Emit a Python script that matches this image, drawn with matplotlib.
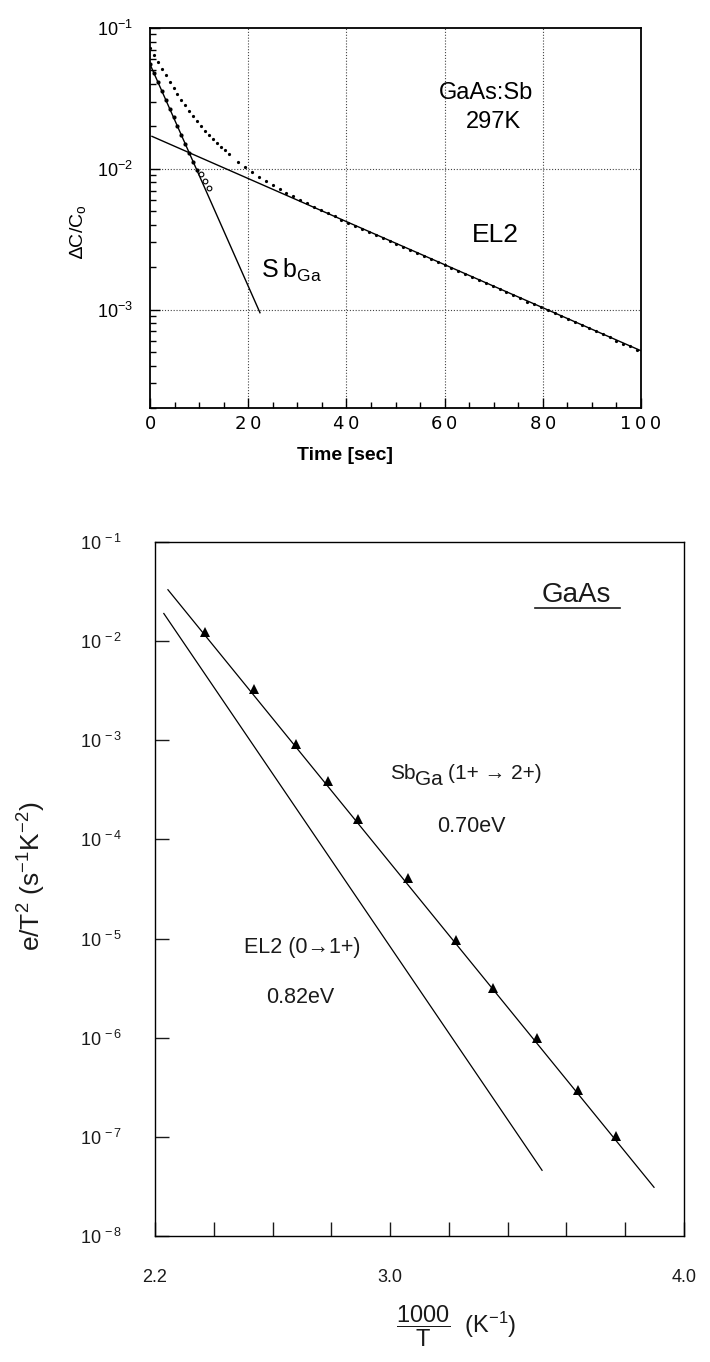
import numpy as np
import matplotlib.pyplot as plt
from matplotlib.ticker import FixedLocator, FixedFormatter, LogLocator, NullFormatter, MultipleLocator

plt.rcParams['font.family'] = ['Liberation Sans', 'DejaVu Sans']
plt.rcParams['mathtext.fontset'] = 'custom'
plt.rcParams['mathtext.rm'] = 'Liberation Sans'
plt.rcParams['mathtext.it'] = 'Liberation Sans:italic'
plt.rcParams['mathtext.bf'] = 'Liberation Sans:bold'

# --- top panel: capacitance transient of GaAs:Sb at 297 K ---
# measured transient (dots)
t_meas = [0.0, 0.8, 1.6, 2.4, 3.2, 4.0, 4.8, 5.6, 6.4, 7.2, 8.0, 8.8, 9.6, 10.4,
          11.2, 12.0, 12.8, 13.6, 14.4, 15.2, 16.0,
          18.0, 19.4, 20.8, 22.2, 23.6, 25.0, 26.4, 27.8, 29.2, 30.6, 32.0, 33.4,
          34.8, 36.2, 37.6, 39.0, 40.4, 41.8, 43.2, 44.6, 46.0, 47.4, 48.8, 50.2,
          51.6, 53.0, 54.4, 55.8, 57.2, 58.6, 60.0, 61.4, 62.8, 64.2, 65.6, 67.0,
          68.4, 69.8, 71.2, 72.6, 74.0, 75.4, 76.8, 78.2, 79.6, 81.0, 82.4, 83.8,
          85.2, 86.6, 88.0, 89.4, 90.8, 92.2, 93.6, 95.0, 96.4, 97.8, 99.2]
dc_meas = [0.0723, 0.0644, 0.0574, 0.0514, 0.0461, 0.0415, 0.0375, 0.0340, 0.0309,
           0.0282, 0.0258, 0.0237, 0.0218, 0.0202, 0.0187, 0.0174, 0.0163, 0.0152,
           0.0143, 0.0135, 0.0127,
           0.01114, 0.01023, 0.00945, 0.00877, 0.00818, 0.00765, 0.00718, 0.00675,
           0.00637, 0.00601, 0.00569, 0.00538, 0.00510, 0.00484, 0.00459, 0.00436,
           0.00414, 0.00394, 0.00375, 0.00356, 0.00339, 0.00322, 0.00306, 0.00291,
           0.00277, 0.00264, 0.00251, 0.00239, 0.00228, 0.00217, 0.00206, 0.00196,
           0.00187, 0.00178, 0.00170, 0.00161, 0.00154, 0.00146, 0.00139, 0.00133,
           0.00126, 0.00120, 0.00114, 0.00109, 0.00104, 0.000987, 0.000939, 0.000894,
           0.000851, 0.000810, 0.000772, 0.000735, 0.000699, 0.000666, 0.000634,
           0.000603, 0.000574, 0.000547, 0.000520]
# fast component after subtracting EL2
t_sb = [0.0, 0.8, 1.6, 2.4, 3.2, 4.0, 4.8, 5.6, 6.4, 7.2, 8.0, 8.8, 9.6]
dc_sb = [0.0553, 0.0479, 0.0414, 0.0358, 0.0310, 0.0268, 0.0232, 0.0200, 0.0173,
         0.0150, 0.0130, 0.0112, 0.0098]
t_sb_open = [10.4, 11.2, 12.0]
dc_sb_open = [0.0092, 0.0082, 0.0073]
# fitted exponentials (straight lines on log scale)
el2_fit_t = [0.4, 100.0]
el2_fit = [0.0170, 0.00051]
sb_fit_t = [0.0, 22.4]
sb_fit = [0.0553, 0.00095]
time_ticks = [0, 20, 40, 60, 80, 100]
time_labels = ['0', '2\u20090', '4\u20090', '6\u20090', '8\u20090', '1\u20090\u20090']

# --- bottom panel: Arrhenius plot ---
inv_t_sb = [2.37, 2.536, 2.68, 2.787, 2.89, 3.06, 3.225, 3.35, 3.50, 3.64, 3.77]
rate_sb = [1.23e-2, 3.3e-3, 9.2e-4, 3.9e-4, 1.6e-4, 4.1e-5, 9.7e-6, 3.2e-6, 1.0e-6,
           2.97e-7, 1.02e-7]
sb_line_x = [2.244, 3.898]
sb_line_y = [3.3e-2, 3.1e-8]
el2_line_x = [2.23, 3.517]
el2_line_y = [1.9e-2, 4.6e-8]
inv_t_ticks = [2.2, 2.4, 2.6, 2.8, 3.0, 3.2, 3.4, 3.6, 3.8, 4.0]
inv_t_labels = ['2.2', '', '', '', '3.0', '', '', '', '', '4.0']

W, H = 710, 1362
ink = '#1a1a1a'
fig = plt.figure(figsize=(W / 100, H / 100), dpi=100)

# ---------------- top ----------------
ax1 = fig.add_axes([150 / W, 1 - 408 / H, 491 / W, 380 / H])
ax1.set_yscale('log')
ax1.set_xlim(0, 100)
ax1.set_ylim(2e-4, 1e-1)

for xg in [20, 40, 60, 80]:
    ax1.axvline(xg, color='#444', lw=0.8, ls=(0, (1, 1.6)), zorder=1)
for yg in [1e-2, 1e-3]:
    ax1.axhline(yg, color='#444', lw=0.8, ls=(0, (1, 1.6)), zorder=1)

ax1.plot(el2_fit_t, el2_fit, color='k', lw=1.0, zorder=3)
ax1.plot(sb_fit_t, sb_fit, color='k', lw=1.0, zorder=3)
ax1.plot(t_meas, dc_meas, 'o', color='k', ms=2.3, mew=0, zorder=4)
ax1.plot(t_sb, dc_sb, 'o', color='k', ms=3.0, mew=0, zorder=4)
ax1.plot(t_sb_open, dc_sb_open, 'o', mfc='white', mec='k', ms=3.4, mew=0.8, zorder=4)

ax1.yaxis.set_major_locator(FixedLocator([1e-1, 1e-2, 1e-3]))
ax1.yaxis.set_major_formatter(FixedFormatter([r'$\mathregular{10^{-1}}$',
                                              r'$\mathregular{10^{-2}}$',
                                              r'$\mathregular{10^{-3}}$']))
ax1.yaxis.set_minor_locator(LogLocator(base=10, subs=np.arange(2, 10)))
ax1.yaxis.set_minor_formatter(NullFormatter())
ax1.xaxis.set_major_locator(FixedLocator(time_ticks))
ax1.xaxis.set_major_formatter(FixedFormatter(time_labels))
ax1.xaxis.set_minor_locator(MultipleLocator(5))
for lab in ax1.get_xticklabels():
    lab.set_family(['DejaVu Sans'])
ax1.tick_params(which='both', direction='in', top=False, right=False, width=1.0,
                labelsize=13, colors='k')
ax1.tick_params(which='major', length=7)
ax1.tick_params(which='minor', length=4)
ax1.tick_params(axis='y', pad=12)
ax1.tick_params(axis='x', pad=5)
for s in ax1.spines.values():
    s.set_linewidth(1.3)

ax1.text(68.5, 10**-1.46, 'GaAs:Sb', fontsize=17, ha='center', va='center')
ax1.text(70, 10**-1.67, '297K', fontsize=17, ha='center', va='center')
ax1.text(70.4, 10**-2.47, 'EL2', fontsize=19, ha='center', va='center')
ax1.text(22.6, 10**-2.72, 'S\u2009b$_{\\mathregular{Ga}}$', fontsize=18,
         ha='left', va='center')

fig.text(77 / W, 1 - 232 / H, '\u2206C/C$_{\\mathregular{o}}$', rotation=90,
         fontsize=14, ha='center', va='center')
fig.text(345 / W, 1 - 455 / H, 'Time [sec]', fontsize=14, fontweight='bold',
         ha='center', va='center')

# ---------------- bottom ----------------
ax2 = fig.add_axes([155 / W, 1 - 1236 / H, 529 / W, 694 / H])
ax2.set_yscale('log')
ax2.set_xlim(2.2, 4.0)
ax2.set_ylim(1e-8, 1e-1)

ax2.plot(sb_line_x, sb_line_y, color='k', lw=0.9)
ax2.plot(el2_line_x, el2_line_y, color='k', lw=0.9)
ax2.plot(inv_t_sb, rate_sb, '^', color='k', ms=7, mew=0)

decades = [1e-1, 1e-2, 1e-3, 1e-4, 1e-5, 1e-6, 1e-7, 1e-8]
ax2.yaxis.set_major_locator(FixedLocator(decades))
ax2.yaxis.set_major_formatter(FixedFormatter(
    [r'$\mathregular{10^{\,-%d}}$' % k for k in range(1, 9)]))
ax2.yaxis.set_minor_locator(FixedLocator([]))
ax2.xaxis.set_major_locator(FixedLocator(inv_t_ticks))
ax2.xaxis.set_major_formatter(FixedFormatter(inv_t_labels))
ax2.tick_params(which='major', direction='in', length=10, width=1.0, top=False,
                right=False, labelsize=13, colors=ink)
ax2.tick_params(axis='y', pad=24)
ax2.tick_params(axis='x', pad=24)
for s in ax2.spines.values():
    s.set_linewidth(1.0)

ax2.text(3.633, 10**-1.534, 'GaAs', fontsize=20, ha='center', va='center', color=ink)
ax2.plot([0.718, 0.879], [0.905, 0.905], transform=ax2.transAxes, color=ink, lw=1.2)

# Sb_Ga (1+ -> 2+) label built from pieces so that the subscript stays large
sb_anchor = (3.0, 10**-3.33)
ax2.annotate('Sb', sb_anchor, fontsize=15, ha='left', va='center', color=ink)
ax2.annotate('Ga', sb_anchor, xytext=(18, -5), textcoords='offset points',
             fontsize=15, ha='left', va='center', color=ink)
ax2.annotate('(1+ \u2192 2+)', sb_anchor, xytext=(42, 0), textcoords='offset points',
             fontsize=15, ha='left', va='center', color=ink)
ax2.text(3.276, 10**-3.87, '0.70eV', fontsize=15.5, ha='center', va='center', color=ink)
ax2.text(2.70, 10**-5.09, 'EL2 (0\u21921+)', fontsize=15.5, ha='center', va='center',
         color=ink)
ax2.text(2.695, 10**-5.59, '0.82eV', fontsize=15.5, ha='center', va='center', color=ink)

fig.text(32 / W, 1 - 876 / H, 'e/T$^{\\mathregular{2}}$ (s$^{\\mathregular{-1}}$K$^{\\mathregular{-2}}$)',
         rotation=90, fontsize=19, ha='center', va='center', color=ink)
fig.text(456 / W, 1 - 1326 / H,
         r'$\dfrac{\mathregular{1000}}{\mathregular{T}}$' + '  (K$^{\\mathregular{-1}}$)',
         fontsize=17, ha='center', va='center', color=ink)

fig.savefig('out.png', dpi=100)
